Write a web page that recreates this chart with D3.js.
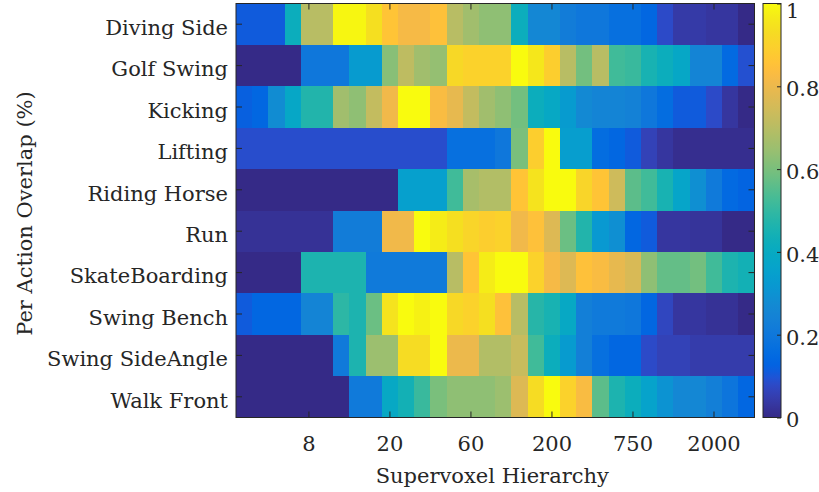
<!DOCTYPE html>
<html>
<head>
<meta charset="utf-8">
<script src="https://cdn.jsdelivr.net/npm/d3@7/dist/d3.min.js"></script>
<style>
  html, body { margin: 0; padding: 0; background: #ffffff; }
  svg { display: block; }
  text { font-family: "DejaVu Serif", "Liberation Serif", serif; fill: #262626; }
</style>
</head>
<body>
<svg id="chart" width="819" height="492"></svg>
<script>
// Actions (rows, top to bottom)
const actions = [
  "Diving Side", "Golf Swing", "Kicking", "Lifting", "Riding Horse",
  "Run", "SkateBoarding", "Swing Bench", "Swing SideAngle", "Walk Front"
];

// Hierarchy levels (columns) and the labelled ones
const levels = d3.range(1, 33);
const levelTicks = [5, 10, 15, 20, 25, 30];
const levelTickLabels = ["8", "20", "60", "200", "750", "2000"];

// Per-action overlap along the supervoxel hierarchy (0..1)
const divingSide = [0.11, 0.11, 0.11, 0.42, 0.70, 0.70, 0.99, 0.99, 0.94, 0.86, 0.82, 0.82, 0.85, 0.70, 0.66, 0.63,
                    0.63, 0.42, 0.26, 0.26, 0.22, 0.20, 0.20, 0.17, 0.17, 0.14, 0.08, 0.04, 0.04, 0.03, 0.03, 0.00];
const golfSwing  = [0.00, 0.00, 0.00, 0.00, 0.20, 0.20, 0.20, 0.33, 0.33, 0.62, 0.71, 0.66, 0.64, 0.92, 0.90, 0.90,
                    0.90, 1.00, 0.96, 0.89, 0.70, 0.59, 0.70, 0.52, 0.51, 0.45, 0.42, 0.38, 0.25, 0.25, 0.15, 0.09];
const kicking    = [0.12, 0.14, 0.28, 0.38, 0.47, 0.47, 0.66, 0.63, 0.72, 0.81, 1.00, 1.00, 0.83, 0.79, 0.72, 0.66,
                    0.63, 0.59, 0.42, 0.39, 0.33, 0.27, 0.25, 0.25, 0.24, 0.20, 0.16, 0.11, 0.11, 0.08, 0.03, 0.00];
const lifting    = [0.085, 0.085, 0.085, 0.085, 0.085, 0.085, 0.085, 0.085, 0.085, 0.085, 0.085, 0.085, 0.085, 0.17, 0.17, 0.17,
                    0.20, 0.60, 0.89, 1.00, 0.34, 0.34, 0.16, 0.14, 0.11, 0.06, 0.03, 0.01, 0.01, 0.01, 0.01, 0.01];
const ridingHorse = [0.00, 0.00, 0.00, 0.00, 0.00, 0.00, 0.00, 0.00, 0.00, 0.00, 0.35, 0.35, 0.35, 0.52, 0.67, 0.69,
                     0.69, 0.86, 0.95, 1.00, 1.00, 0.91, 0.86, 0.74, 0.56, 0.52, 0.45, 0.37, 0.29, 0.21, 0.15, 0.13];
const run        = [0.02, 0.02, 0.02, 0.02, 0.02, 0.02, 0.22, 0.22, 0.22, 0.81, 0.81, 1.00, 0.97, 0.94, 0.91, 0.89,
                    0.90, 0.81, 0.85, 0.77, 0.58, 0.47, 0.32, 0.29, 0.14, 0.11, 0.03, 0.03, 0.025, 0.025, 0.00, 0.00];
const skateBoarding = [0.00, 0.00, 0.00, 0.00, 0.46, 0.46, 0.46, 0.46, 0.21, 0.21, 0.21, 0.21, 0.21, 0.70, 0.86, 0.97,
                       1.00, 1.00, 0.90, 0.82, 0.77, 0.85, 0.83, 0.79, 0.76, 0.63, 0.57, 0.57, 0.59, 0.52, 0.46, 0.44];
const swingBench = [0.11, 0.14, 0.14, 0.14, 0.25, 0.25, 0.49, 0.46, 0.58, 0.95, 1.00, 0.98, 1.00, 0.92, 0.90, 0.94,
                    0.85, 0.70, 0.48, 0.45, 0.39, 0.23, 0.21, 0.21, 0.20, 0.14, 0.07, 0.03, 0.03, 0.02, 0.02, 0.00];
const swingSideAngle = [0.00, 0.00, 0.00, 0.00, 0.00, 0.00, 0.21, 0.46, 0.65, 0.65, 0.93, 0.93, 1.00, 0.80, 0.80, 0.69,
                        0.69, 0.73, 0.52, 0.42, 0.33, 0.23, 0.17, 0.14, 0.14, 0.08, 0.06, 0.06, 0.045, 0.045, 0.045, 0.045];
const walkFront  = [0.00, 0.00, 0.00, 0.00, 0.00, 0.00, 0.00, 0.21, 0.21, 0.39, 0.44, 0.51, 0.60, 0.63, 0.63, 0.63,
                    0.65, 0.77, 0.93, 1.00, 0.90, 0.83, 0.56, 0.46, 0.42, 0.36, 0.30, 0.26, 0.26, 0.23, 0.19, 0.14];

const overlapRows = [divingSide, golfSwing, kicking, lifting, ridingHorse,
                     run, skateBoarding, swingBench, swingSideAngle, walkFront];

const colorbarTicks = [0, 0.2, 0.4, 0.6, 0.8, 1];

// Parula colour map (64 entries)
const parula = [
  [0.2081,0.1663,0.5292],[0.2116,0.1898,0.5777],[0.2123,0.2138,0.6270],[0.2081,0.2386,0.6771],
  [0.1959,0.2645,0.7279],[0.1707,0.2919,0.7792],[0.1253,0.3242,0.8303],[0.0591,0.3598,0.8683],
  [0.0117,0.3875,0.8820],[0.0060,0.4086,0.8828],[0.0165,0.4266,0.8786],[0.0329,0.4430,0.8720],
  [0.0498,0.4586,0.8641],[0.0629,0.4737,0.8554],[0.0723,0.4887,0.8467],[0.0779,0.5040,0.8384],
  [0.0793,0.5200,0.8312],[0.0749,0.5375,0.8263],[0.0641,0.5570,0.8240],[0.0488,0.5772,0.8228],
  [0.0343,0.5966,0.8199],[0.0265,0.6137,0.8135],[0.0239,0.6287,0.8038],[0.0231,0.6418,0.7913],
  [0.0228,0.6535,0.7768],[0.0267,0.6642,0.7607],[0.0384,0.6743,0.7436],[0.0590,0.6838,0.7254],
  [0.0843,0.6928,0.7062],[0.1133,0.7015,0.6859],[0.1453,0.7098,0.6646],[0.1801,0.7177,0.6424],
  [0.2178,0.7250,0.6193],[0.2586,0.7317,0.5954],[0.3022,0.7376,0.5712],[0.3482,0.7424,0.5473],
  [0.3953,0.7459,0.5244],[0.4420,0.7481,0.5033],[0.4871,0.7491,0.4840],[0.5300,0.7491,0.4661],
  [0.5709,0.7485,0.4494],[0.6099,0.7473,0.4337],[0.6473,0.7456,0.4188],[0.6834,0.7435,0.4044],
  [0.7184,0.7411,0.3905],[0.7525,0.7384,0.3768],[0.7858,0.7356,0.3633],[0.8185,0.7327,0.3498],
  [0.8507,0.7299,0.3360],[0.8824,0.7274,0.3217],[0.9139,0.7258,0.3063],[0.9450,0.7261,0.2886],
  [0.9739,0.7314,0.2666],[0.9938,0.7455,0.2403],[0.9990,0.7653,0.2164],[0.9955,0.7861,0.1967],
  [0.9880,0.8066,0.1794],[0.9789,0.8271,0.1633],[0.9697,0.8481,0.1475],[0.9626,0.8705,0.1309],
  [0.9589,0.8949,0.1132],[0.9598,0.9218,0.0948],[0.9661,0.9514,0.0755],[0.9763,0.9831,0.0538]
].map(c => d3.rgb(c[0] * 255, c[1] * 255, c[2] * 255).toString());

const color = d3.scaleLinear()
  .domain(parula.map((_, i) => i / (parula.length - 1)))
  .range(parula)
  .interpolate(d3.interpolateRgb)
  .clamp(true);

// Layout
const plot = { left: 236, right: 754.5, top: 3.5, bottom: 417.5 };
const cbar = { left: 763, right: 781 };
const ink = "#262626";
const fontSize = 21;

const svg = d3.select("#chart");

const x = d3.scaleBand().domain(levels).range([plot.left, plot.right]).padding(0);
const y = d3.scaleBand().domain(actions).range([plot.top, plot.bottom]).padding(0);

// Heatmap cells
const cells = [];
overlapRows.forEach((row, r) => row.forEach((v, c) => cells.push({ action: actions[r], level: levels[c], value: v })));

svg.append("g")
  .selectAll("rect")
  .data(cells)
  .join("rect")
  .attr("x", d => x(d.level))
  .attr("y", d => y(d.action))
  .attr("width", x.bandwidth() + 0.4)
  .attr("height", y.bandwidth() + 0.4)
  .attr("fill", d => color(d.value))
  .attr("shape-rendering", "crispEdges");

// Axes (ticks point inward, frame drawn separately)
const xAxis = svg.append("g")
  .attr("transform", `translate(0,${plot.bottom})`)
  .call(d3.axisBottom(x).tickValues(levelTicks)
    .tickFormat((d, i) => levelTickLabels[i])
    .tickSizeInner(-6).tickSizeOuter(0).tickPadding(18.5));

const xAxisTop = svg.append("g")
  .attr("transform", `translate(0,${plot.top})`)
  .call(d3.axisTop(x).tickValues(levelTicks).tickFormat("")
    .tickSizeInner(-6).tickSizeOuter(0));

const yAxis = svg.append("g")
  .attr("transform", `translate(${plot.left},0)`)
  .call(d3.axisLeft(y).tickSizeInner(-6).tickSizeOuter(0).tickPadding(8));

const yAxisRight = svg.append("g")
  .attr("transform", `translate(${plot.right},0)`)
  .call(d3.axisRight(y).tickFormat("").tickSizeInner(-6).tickSizeOuter(0));

[xAxis, xAxisTop, yAxis, yAxisRight].forEach(g => {
  g.select(".domain").remove();
  g.selectAll(".tick line").attr("stroke", ink).attr("stroke-width", 1);
  g.selectAll(".tick text")
    .attr("fill", ink)
    .style("font-family", '"DejaVu Serif", serif')
    .style("font-size", fontSize + "px");
});
yAxis.selectAll(".tick text").attr("dy", "0.51em");

// Frame
svg.append("rect")
  .attr("x", plot.left).attr("y", plot.top)
  .attr("width", plot.right - plot.left).attr("height", plot.bottom - plot.top)
  .attr("fill", "none").attr("stroke", ink).attr("stroke-width", 1);

// Axis titles
svg.append("text")
  .attr("x", (plot.left + plot.right) / 2 - 3)
  .attr("y", 483)
  .attr("text-anchor", "middle")
  .style("font-size", fontSize + "px")
  .text("Supervoxel Hierarchy");

svg.append("text")
  .attr("transform", `translate(32,${(plot.top + plot.bottom) / 2 + 3}) rotate(-90)`)
  .attr("text-anchor", "middle")
  .style("font-size", fontSize + "px")
  .text("Per Action Overlap (%)");

// Colour bar
const cScale = d3.scaleLinear().domain([0, 1]).range([plot.bottom, plot.top]);

const grad = svg.append("defs").append("linearGradient")
  .attr("id", "parulaGrad")
  .attr("x1", 0).attr("y1", 1).attr("x2", 0).attr("y2", 0);
grad.selectAll("stop")
  .data(parula)
  .join("stop")
  .attr("offset", (d, i) => i / (parula.length - 1))
  .attr("stop-color", d => d);

svg.append("rect")
  .attr("x", cbar.left).attr("y", plot.top)
  .attr("width", cbar.right - cbar.left).attr("height", plot.bottom - plot.top)
  .attr("fill", "url(#parulaGrad)")
  .attr("stroke", ink).attr("stroke-width", 1);

const cAxis = svg.append("g")
  .attr("transform", `translate(${cbar.right},0)`)
  .call(d3.axisRight(cScale).tickValues(colorbarTicks)
    .tickFormat(d => d === 0 || d === 1 ? String(d) : d3.format(".1f")(d))
    .tickSizeInner(-4).tickSizeOuter(0).tickPadding(5));
cAxis.select(".domain").remove();
cAxis.selectAll(".tick line").attr("stroke", ink);
cAxis.selectAll(".tick text")
  .attr("fill", ink)
  .attr("dy", d => d === 1 ? "0.66em" : "0.45em")
  .style("font-family", '"DejaVu Serif", serif')
  .style("font-size", fontSize + "px");
</script>
</body>
</html>
